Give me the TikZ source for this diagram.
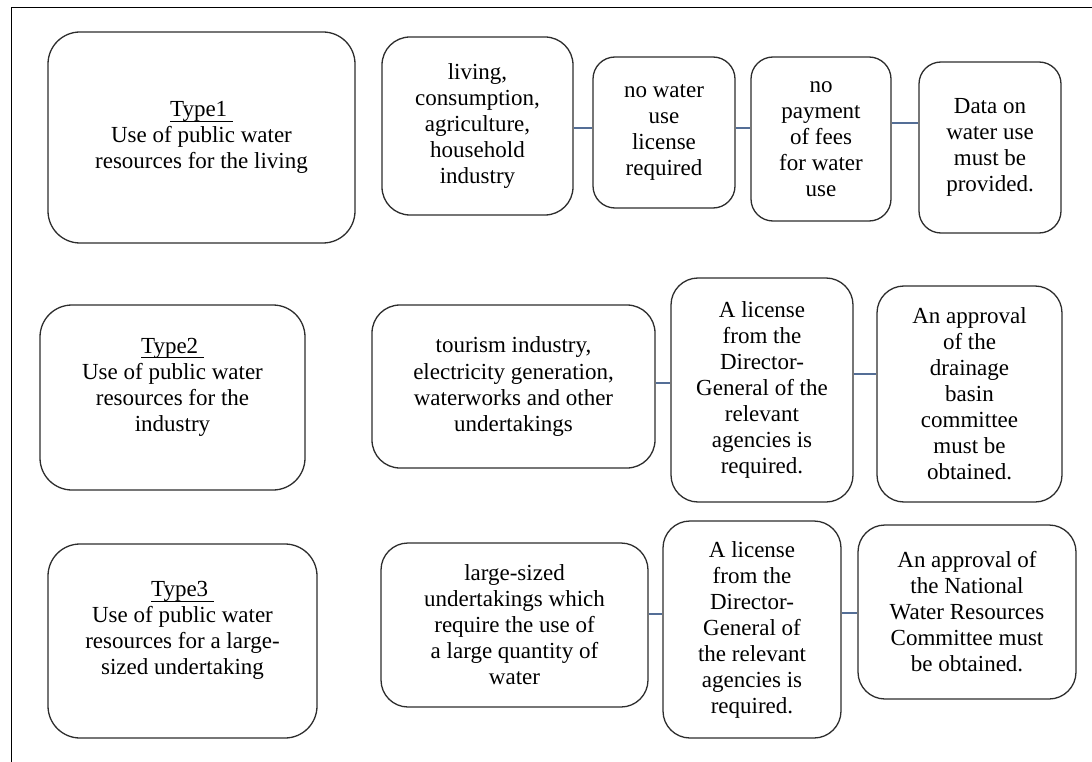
\documentclass[tikz,border=0pt]{standalone}
\usepackage{fontspec}
\setmainfont{Liberation Serif}
\newfontfamily\tnrfont{Liberation Serif}
\definecolor{boxc}{RGB}{45,45,45}
\definecolor{linkc}{RGB}{84,110,150}
\newcommand\typeul[1]{\setbox0\hbox{#1}\rlap{\raisebox{-5pt}{\rule{\wd0}{1pt}}}\box0}
\begin{document}
\begin{tikzpicture}[x=1pt,y=-1pt,
  box/.style={draw=boxc, line width=1.3pt, align=center, inner sep=0pt,
    font=\tnrfont\fontsize{23}{26}\selectfont},
  link/.style={draw=linkc, line width=2.2pt}]
\useasboundingbox (0,0) rectangle (1092,762);
\fill[white] (0,0) rectangle (1092,762);
\draw[line width=1pt] (11,762) -- (11,8) -- (1092,8);

% Row 1
\node[box, rounded corners=32pt, minimum width=307pt, minimum height=211pt] (t1) at (201.5,137.5)
  {\typeul{Type1 }\\Use of public water\\resources for the living};
\node[box, rounded corners=28pt, minimum width=191pt, minimum height=178pt] (a1) at (477.5,126)
  {living,\\consumption,\\agriculture,\\household\\industry};
\node[box, rounded corners=22pt, minimum width=142pt, minimum height=151pt] (b1) at (664,132.5)
  {no water\\use\\license\\required};
\node[box, rounded corners=22pt, minimum width=140pt, minimum height=164pt] (c1) at (821,139)
  {no\\payment\\of fees\\for water\\use};
\node[box, rounded corners=22pt, minimum width=142pt, minimum height=171pt] (d1) at (990,147.5)
  {Data on\\water use\\must be\\provided.};

% Row 2
\node[box, rounded corners=32pt, minimum width=265pt, minimum height=185pt] (t2) at (172.5,397.5)
  {\typeul{Type2 }\\Use of public water\\resources for the\\industry\\ \mbox{}};
\node[box, rounded corners=28pt, minimum width=283pt, minimum height=163pt] (a2) at (513.5,386.5)
  {tourism industry,\\electricity generation,\\waterworks and other\\undertakings};
\node[box, rounded corners=27pt, minimum width=182pt, minimum height=224pt] (b2) at (762,390)
  {A license\\from the\\Director-\\General of the\\relevant\\agencies is\\required.};
\node[box, rounded corners=27pt, minimum width=185pt, minimum height=216pt] (c2) at (969.5,394)
  {An approval\\of the\\drainage\\basin\\committee\\must be\\obtained.};

% Row 3
\node[box, rounded corners=32pt, minimum width=269pt, minimum height=194pt] (t3) at (182.5,641)
  {\typeul{Type3 }\\Use of public water\\resources for a large-\\sized undertaking\\ \mbox{}};
\node[box, rounded corners=27pt, minimum width=267pt, minimum height=164pt] (a3) at (514.5,625)
  {large-sized\\undertakings which\\require the use of\\a large quantity of\\water};
\node[box, rounded corners=27pt, minimum width=178pt, minimum height=217pt] (b3) at (752,629.5)
  {A license\\from the\\Director-\\General of\\the relevant\\agencies is\\required.};
\node[box, rounded corners=27pt, minimum width=218pt, minimum height=174pt] (c3) at (967,612)
  {An approval of\\the National\\Water Resources\\Committee must\\be obtained.};

% connector heights
\coordinate (r1a) at (0,128);
\coordinate (r1c) at (0,123);
\coordinate (r2a) at (0,383);
\coordinate (r2b) at (0,374);
\coordinate (r3a) at (0,614);
\coordinate (r3b) at (0,613);

\draw[link] (a1.east |- r1a) -- (b1.west |- r1a);
\draw[link] (b1.east |- r1a) -- (c1.west |- r1a);
\draw[link] (c1.east |- r1c) -- (d1.west |- r1c);
\draw[link] (a2.east |- r2a) -- (b2.west |- r2a);
\draw[link] (b2.east |- r2b) -- (c2.west |- r2b);
\draw[link] (a3.east |- r3a) -- (b3.west |- r3a);
\draw[link] (b3.east |- r3b) -- (c3.west |- r3b);
\end{tikzpicture}
\end{document}
